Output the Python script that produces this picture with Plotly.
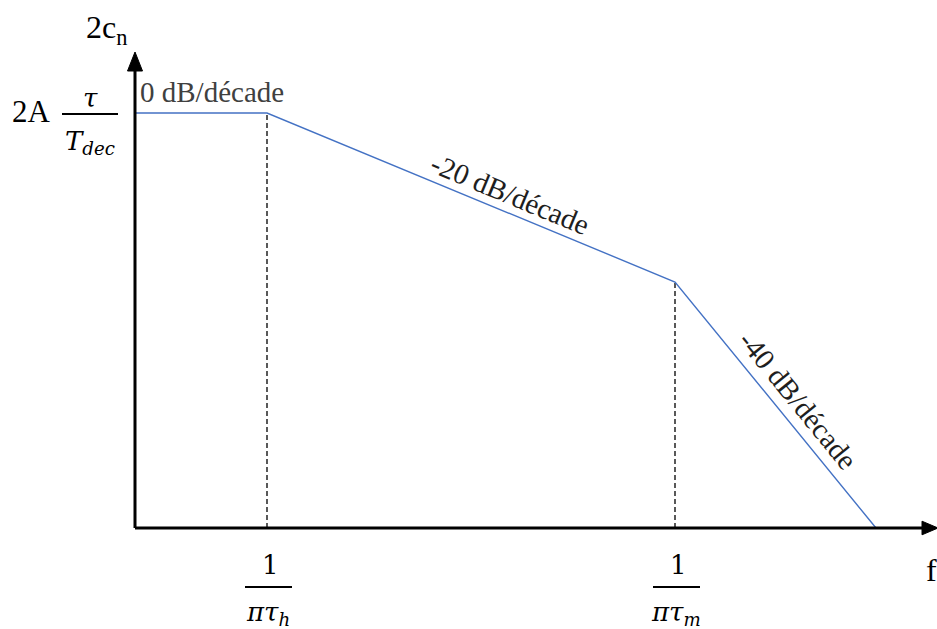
import math
import plotly.graph_objects as go

# ---- data (sketch units: log-frequency along x, magnitude along y) ----
freq = [0.0, 1.32, 5.40, 7.41]          # breakpoints of the asymptotic curve
gain = [4.15, 4.15, 2.46, 0.0]          # 2c_n asymptote values
corner_freq = [1.32, 5.40]              # 1/(pi tau_h), 1/(pi tau_m)
corner_gain = [4.15, 2.46]
corner_sub = ["h", "m"]
slope_labels = ["0 dB/décade", "-20 dB/décade", "-40 dB/décade"]

# ---- layout helpers (1 unit = 100 px, origin at the axes' crossing) ----
X0, X1 = -1.35, 8.02
Y0, Y1 = -1.01, 5.28
SERIF = "'Times New Roman', 'Liberation Serif', serif"
MATH = "'DejaVu Serif', serif"

fig = go.Figure()

# dashed guides at corner frequencies
for fc, gc in zip(corner_freq, corner_gain):
    fig.add_trace(go.Scatter(x=[fc, fc], y=[0, gc], mode="lines",
                             line=dict(color="black", width=1.3, dash="5px,3px"),
                             hoverinfo="skip", showlegend=False))

# asymptotic curve
fig.add_trace(go.Scatter(x=freq, y=gain, mode="lines",
                         line=dict(color="#4472C4", width=1.4),
                         hoverinfo="skip", showlegend=False))

shapes = []
# axes
shapes.append(dict(type="line", x0=0, y0=0, x1=0, y1=4.62, line=dict(color="black", width=3)))
shapes.append(dict(type="line", x0=0, y0=0, x1=7.9, y1=0, line=dict(color="black", width=3)))
shapes.append(dict(type="path", path="M -0.075 4.57 L 0 4.76 L 0.075 4.57 Z",
                   fillcolor="black", line=dict(color="black", width=1)))
shapes.append(dict(type="path", path="M 7.87 0.068 L 8.03 0 L 7.87 -0.068 Z",
                   fillcolor="black", line=dict(color="black", width=1)))
# fraction bar of the y label
shapes.append(dict(type="line", x0=-0.73, y0=4.14, x1=-0.17, y1=4.14, line=dict(color="black", width=2)))

ann = []
# y-axis title
ann.append(dict(x=-0.29, y=4.99, text="2c<sub>n</sub>", showarrow=False,
                font=dict(family=SERIF, size=32, color="black"), xanchor="center", yanchor="middle"))
# f label
ann.append(dict(x=7.89, y=-0.42, text="f", showarrow=False,
                font=dict(family=SERIF, size=32, color="black"), xanchor="left", yanchor="middle"))
# y value label 2A tau/T_dec
ann.append(dict(x=-1.04, y=4.17, text="2A", showarrow=False,
                font=dict(family=SERIF, size=31, color="black"), xanchor="center", yanchor="middle"))
ann.append(dict(x=-0.45, y=4.30, text="<i>τ</i>", showarrow=False,
                font=dict(family=MATH, size=26, color="black"), xanchor="center", yanchor="middle"))
ann.append(dict(x=-0.45, y=3.86, text="<i>T<sub>dec</sub></i>", showarrow=False,
                font=dict(family=MATH, size=26, color="black"), xanchor="center", yanchor="middle"))

# corner frequency labels 1/(pi tau_x)
for fc, sub in zip(corner_freq, corner_sub):
    ann.append(dict(x=fc + 0.03, y=-0.37, text="1", showarrow=False,
                    font=dict(family=MATH, size=26, color="black"), xanchor="center", yanchor="middle"))
    ann.append(dict(x=fc + 0.01, y=-0.85, text="<i>πτ<sub>%s</sub></i>" % sub, showarrow=False,
                    font=dict(family=MATH, size=26, color="black"), xanchor="center", yanchor="middle"))
    shapes.append(dict(type="line", x0=fc - 0.22, y0=-0.59, x1=fc + 0.25, y1=-0.59,
                       line=dict(color="black", width=2)))

# slope labels
label_pos = [(0.77, 4.36), (3.75, 3.34), (6.63, 1.28)]
label_col = ["#404040", "#1e1e1e", "#1e1e1e"]
for i, (txt, (lx, ly), col) in enumerate(zip(slope_labels, label_pos, label_col)):
    dx = freq[i + 1] - freq[i]
    dy = gain[i + 1] - gain[i]
    ang = math.degrees(math.atan2(-dy, dx))
    ann.append(dict(x=lx, y=ly, text=txt, showarrow=False, textangle=ang,
                    font=dict(family=SERIF, size=29, color=col), xanchor="center", yanchor="middle"))

fig.update_layout(
    width=937, height=629,
    margin=dict(l=0, r=0, t=0, b=0),
    paper_bgcolor="white", plot_bgcolor="white",
    xaxis=dict(range=[X0, X1], visible=False, fixedrange=True),
    yaxis=dict(range=[Y0, Y1], visible=False, fixedrange=True),
    shapes=shapes, annotations=ann, showlegend=False,
)

fig.write_html("out.html", config={"displayModeBar": False},
               post_script="document.body.style.margin='0';document.body.style.overflow='hidden';")
